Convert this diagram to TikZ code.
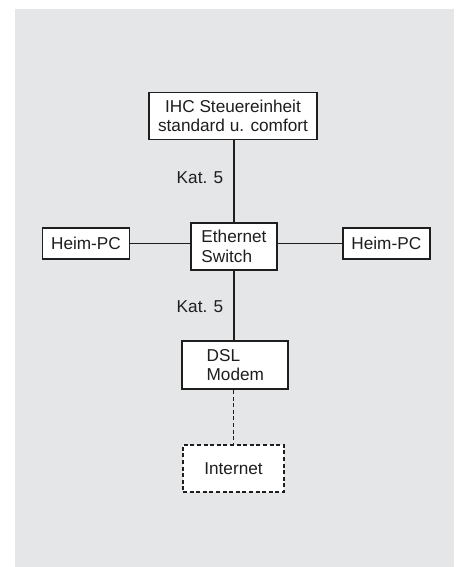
\documentclass[tikz,border=0pt]{standalone}
\usepackage{fontspec}
\setmainfont{Liberation Sans}
\definecolor{bggray}{RGB}{229,230,232}
\definecolor{inkk}{RGB}{30,30,30}
\begin{document}
\begin{tikzpicture}[x=1pt,y=-1pt,
  every node/.style={font=\fontsize{17.2}{19.5}\selectfont, inner sep=0pt, text=inkk},
  box/.style={draw=inkk, fill=white, line width=1.8pt, rectangle},
  dbox/.style={box, line width=1.9pt, dash pattern=on 4pt off 2.6pt},
  conn/.style={draw=inkk, line width=1.5pt},
  dconn/.style={conn, line width=1.9pt, dash pattern=on 4pt off 2.6pt},
  lbl/.style={}]
\useasboundingbox (0,0) rectangle (459,567);
\fill[bggray] (15,9) rectangle (454,567);

\node[box, minimum width=168pt, minimum height=47pt, align=center] (ihc) at (233,116)
  {IHC Steuereinheit\\standard u. comfort};
\node[box, minimum width=86pt, minimum height=47pt, align=left] (sw) at (234,246.5)
  {Ethernet\\Switch};
\node[box, minimum width=87pt, minimum height=31pt] (lpc) at (86,243.5) {Heim-PC};
\node[box, minimum width=87pt, minimum height=31pt] (rpc) at (386.3,243.5) {Heim-PC};
\node[box, minimum width=106pt, minimum height=48pt, align=left] (modem) at (235.3,365)
  {DSL\\Modem};
\node[dbox, minimum width=101pt, minimum height=47pt] (inet) at (233.5,468.5) {Internet};

\node[lbl] (kat1) at (200,178) {Kat. 5};
\node[lbl] (kat2) at (200,307) {Kat. 5};

\draw[conn] (ihc.south -| sw.north) -- (sw.north);
\draw[conn] (sw.south) -- (sw.south |- modem.north);
\draw[conn] (lpc.east) -- (lpc.east -| sw.west);
\draw[conn] (rpc.west -| sw.east) -- (rpc.west);
\draw[dconn] (modem.south -| inet.north) -- (inet.north);
\end{tikzpicture}
\end{document}
